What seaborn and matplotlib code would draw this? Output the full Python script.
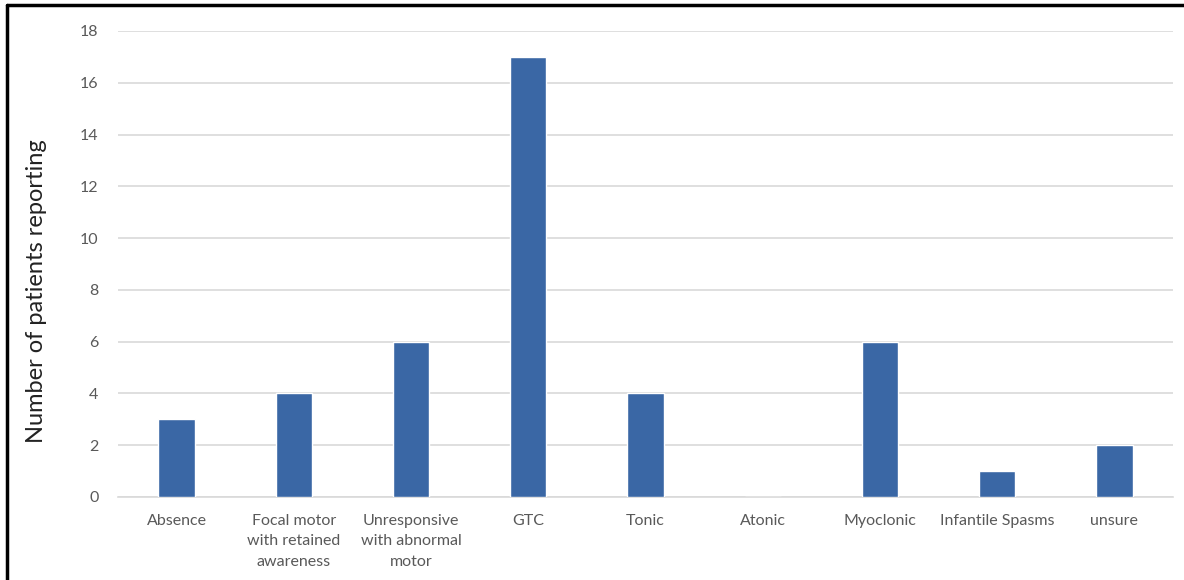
import matplotlib
matplotlib.use("Agg")
import matplotlib.pyplot as plt
from matplotlib.lines import Line2D
import seaborn as sns
import pandas as pd

categories = ["Absence", "Focal motor\nwith retained\nawareness", "Unresponsive\nwith abnormal\nmotor",
              "GTC", "Tonic", "Atonic", "Myoclonic", "Infantile Spasms", "unsure"]
counts = [3, 4, 6, 17, 4, 0, 6, 1, 2]
yticks = [0, 2, 4, 6, 8, 10, 12, 14, 16, 18]

sns.set_theme(style="white")
plt.rcParams['font.family'] = ['Lato', 'DejaVu Sans']

df = pd.DataFrame({"category": categories, "count": counts})

fig = plt.figure(figsize=(11.84, 5.8), dpi=100)
ax = fig.add_axes([118/1184, 1-497/580, (1173-118)/1184, (497-31)/580])

sns.barplot(data=df, x="category", y="count", color="#3A67A5", saturation=1,
            width=0.31, ax=ax, zorder=3)

ax.set_ylim(0, 18)
ax.set_yticks(yticks)
ax.set_yticklabels([str(t) for t in yticks])
ax.set_xlim(-0.5, len(categories) - 0.5)
ax.yaxis.grid(True, color="#D9D9D9", linewidth=1.2, zorder=0)
ax.set_axisbelow(True)
for s in ["top", "right", "left"]:
    ax.spines[s].set_visible(False)
ax.spines["bottom"].set_color("#D9D9D9")
ax.spines["bottom"].set_linewidth(1.2)
ax.tick_params(axis="both", length=0, colors="#595959", labelsize=11.5)
ax.tick_params(axis="y", pad=14)
ax.tick_params(axis="x", pad=12)
for lab in ax.get_xticklabels():
    lab.set_linespacing(1.6)
ax.set_xlabel("")
ax.set_ylabel("Number of patients reporting", fontsize=17, color="#222222")
ax.yaxis.set_label_coords(-(118-37)/(1173-118), (497-291)/(497-31))
ax.yaxis.label.set_verticalalignment("center")

# figure border (left and top)
fig.add_artist(Line2D([7/1184, 7/1184], [0, 1-5/580], transform=fig.transFigure, color="black", linewidth=2.5))
fig.add_artist(Line2D([7/1184, 1], [1-5/580, 1-5/580], transform=fig.transFigure, color="black", linewidth=2.5))

fig.savefig("out.png", dpi=100)
